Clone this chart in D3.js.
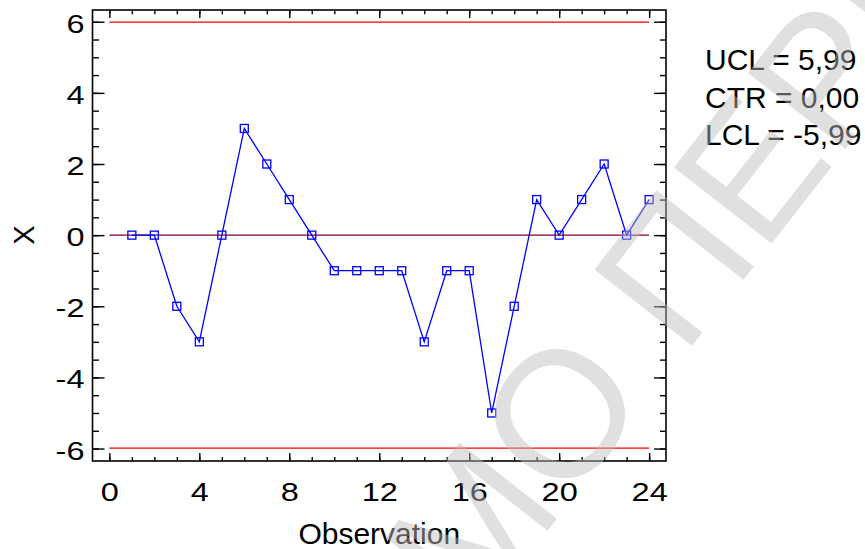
<!DOCTYPE html>
<html>
<head>
<meta charset="utf-8">
<script src="https://cdn.jsdelivr.net/npm/d3@7"></script>
<style>
  html, body { margin: 0; padding: 0; background: #fff; }
  svg { display: block; font-family: "Liberation Sans", Arial, Helvetica, sans-serif; }
</style>
</head>
<body>
<svg id="chart" width="865" height="549"></svg>
<script>
// Individual measurements, observation number and value
const observations = [1, 2, 3, 4, 5, 6, 7, 8, 9, 10, 11, 12, 13, 14, 15, 16, 17, 18, 19, 20, 21, 22, 23, 24];
const values = [0, 0, -2, -3, 0, 3, 2, 1, 0, -1, -1, -1, -1, -3, -1, -1, -5, -2, 1, 0, 1, 2, 0, 1];

// Control limits
const limitNames = ["UCL", "CTR", "LCL"];
const limitValues = [5.99, 0.00, -5.99];

// Axis ticks
const xMajorTicks = [0, 4, 8, 12, 16, 20, 24];
const xMinorTicks = d3.range(0, 25, 1);
const yMajorTicks = [-6, -4, -2, 0, 2, 4, 6];
const yMinorTicks = d3.range(-6, 6.01, 0.5);

const xTitle = "Observation";
const yTitle = "X";
const watermark = "ДЕМО ПЕРИОД";

const svg = d3.select("#chart");
const plotL = 92.5, plotR = 666, plotT = 10, plotB = 461;

const x = d3.scaleLinear().domain([-0.75, 24.75]).range([plotL, plotR]);
const y = d3.scaleLinear().domain([-6.35, 6.33]).range([plotB, plotT]);

const fmt = v => v.toFixed(2).replace(".", ",");
const stretch = 1.3; // wide axis-scale lettering

// Tick marks, pointing inward on all four sides
function ticks(axisFn, scale, vals, size, pos, labelSide, pad) {
  const a = axisFn(scale).tickValues(vals).tickSizeInner(-size).tickSizeOuter(0)
    .tickPadding(pad || 0)
    .tickFormat(labelSide ? (d => String(d)) : "");
  const g = svg.append("g").attr("transform", pos).call(a);
  g.select(".domain").remove();
  g.selectAll("line").attr("stroke", "#000").attr("stroke-width", 1.4);
  const t = g.selectAll("text").attr("fill", "#000")
    .style("font-size", "25px")
    .style("font-family", "'Liberation Sans', Arial, sans-serif")
    .attr("transform", `scale(${stretch},1)`);
  if (labelSide === "left") t.attr("x", -pad / stretch).attr("dy", "0.42em");
  return g;
}

ticks(d3.axisLeft, y, yMinorTicks, 6.5, `translate(${plotL},0)`);
ticks(d3.axisRight, y, yMinorTicks, 6, `translate(${plotR},0)`);
ticks(d3.axisLeft, y, yMajorTicks, 12, `translate(${plotL},0)`, "left", 8);
ticks(d3.axisRight, y, yMajorTicks, 12, `translate(${plotR},0)`);

ticks(d3.axisBottom, x, xMinorTicks, 4, `translate(0,${plotB})`);
ticks(d3.axisTop, x, xMinorTicks, 4.3, `translate(0,${plotT})`);
ticks(d3.axisBottom, x, xMajorTicks, 8, `translate(0,${plotB})`, "bottom", 22.5);
ticks(d3.axisTop, x, xMajorTicks, 8, `translate(0,${plotT})`);

// Plot frame
svg.append("rect")
  .attr("x", plotL).attr("y", plotT)
  .attr("width", plotR - plotL).attr("height", plotB - plotT)
  .attr("fill", "none").attr("stroke", "#000").attr("stroke-width", 1.6);

// Control limit lines
const limitColors = ["#ff0000", "#800038", "#ff0000"];
svg.append("g").selectAll("line")
  .data(limitValues)
  .join("line")
  .attr("x1", x(0)).attr("x2", x(24))
  .attr("y1", d => y(d)).attr("y2", d => y(d))
  .attr("stroke", (d, i) => limitColors[i])
  .attr("stroke-width", 1.3);

// Observation series
const pts = observations.map((o, i) => ({ o, v: values[i] }));
svg.append("path")
  .datum(pts)
  .attr("fill", "none")
  .attr("stroke", "#0000ff")
  .attr("stroke-width", 1.3)
  .attr("d", d3.line().x(d => x(d.o)).y(d => y(d.v)));

const sq = 8;
svg.append("g").selectAll("rect")
  .data(pts)
  .join("rect")
  .attr("x", d => x(d.o) - sq / 2).attr("y", d => y(d.v) - sq / 2)
  .attr("width", sq).attr("height", sq)
  .attr("fill", "none").attr("stroke", "#0000ff").attr("stroke-width", 1.3);

// Axis titles
svg.append("text")
  .attr("x", (plotL + plotR) / 2).attr("y", 544)
  .attr("text-anchor", "middle")
  .style("font-size", "30px")
  .text(xTitle);

svg.append("text")
  .attr("transform", `translate(33.5,${y(0)}) rotate(-90)`)
  .attr("text-anchor", "middle")
  .style("font-size", "29px")
  .text(yTitle);

// Limit legend
svg.append("g").selectAll("text")
  .data(limitNames)
  .join("text")
  .attr("x", 705)
  .attr("y", (d, i) => 70 + i * 37.7)
  .style("font-size", "30px")
  .text((d, i) => `${d} = ${fmt(limitValues[i])}`);

// Diagonal watermark
const wmSize = 180;
const wm = svg.append("text")
  .style("font-size", wmSize + "px")
  .attr("fill", "#bdbdbd")
  .attr("fill-opacity", 0.47)
  .text(watermark);
const node = wm.node();
const ext = node.getExtentOfChar(3);
const ox = ext.x + ext.width / 2;
const oy = -0.36 * wmSize;
wm.attr("transform", `translate(558,412) rotate(-52) translate(${-ox},${-oy})`);
</script>
</body>
</html>
